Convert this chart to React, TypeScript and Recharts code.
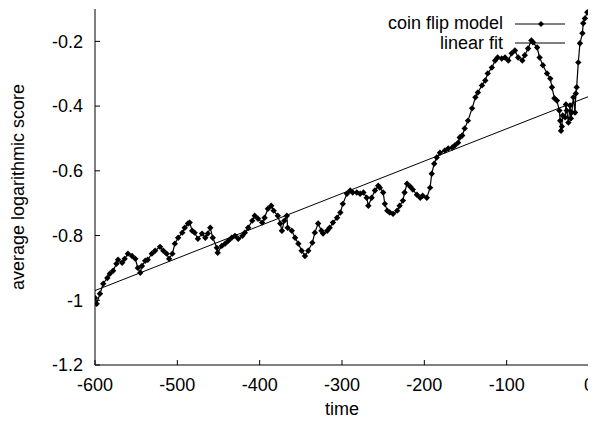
import React from 'react';
import { ScatterChart, Scatter, XAxis, YAxis, Legend, Label } from 'recharts';

const FONT = '"Liberation Sans", Arial, Helvetica, sans-serif';

const times = [
  -600, -598, -594, -590, -585, -582, -578, -574, -572, -567,
  -564, -560, -555, -551, -548, -545, -543, -539, -536, -531,
  -527, -521, -517, -513, -510, -506, -503, -499, -494, -491,
  -487, -485, -482, -479, -475, -470, -466, -463, -460, -457,
  -452, -451, -446, -442, -438, -434, -430, -426, -421, -418,
  -414, -409, -406, -402, -397, -394, -390, -386, -383, -378,
  -375, -373, -370, -367, -366, -361, -357, -353, -349, -345,
  -341, -336, -333, -329, -325, -323, -318, -315, -311, -306,
  -302, -299, -294, -290, -287, -282, -278, -274, -270, -268,
  -264, -260, -256, -254, -250, -248, -245, -242, -238, -233,
  -230, -226, -224, -221, -217, -214, -209, -205, -202, -197,
  -193, -191, -188, -185, -181, -175, -171, -166, -163, -159,
  -157, -154, -151, -147, -142, -138, -135, -130, -126, -123,
  -118, -114, -111, -106, -102, -98, -94, -90, -86, -81,
  -78, -74, -70, -68, -63, -60, -56, -51, -47, -45,
  -42, -39, -36, -35, -34, -33, -32, -29, -28, -27,
  -25, -23, -22, -21, -19, -17, -16, -15, -13, -11,
  -8, -7, -5, -2,
];

const scores = [
  -0.993, -1.011, -0.98, -0.949, -0.931, -0.918, -0.909, -0.887, -0.875, -0.884,
  -0.872, -0.856, -0.863, -0.872, -0.9, -0.915, -0.894, -0.878, -0.875, -0.856,
  -0.847, -0.835, -0.847, -0.856, -0.872, -0.856, -0.825, -0.807, -0.791, -0.776,
  -0.763, -0.76, -0.785, -0.791, -0.81, -0.794, -0.807, -0.794, -0.776, -0.807,
  -0.838, -0.853, -0.832, -0.825, -0.816, -0.807, -0.801, -0.81, -0.801, -0.791,
  -0.776, -0.754, -0.739, -0.748, -0.76, -0.745, -0.717, -0.708, -0.723, -0.739,
  -0.763, -0.785, -0.754, -0.739, -0.776, -0.785, -0.807, -0.825, -0.847, -0.863,
  -0.847, -0.822, -0.791, -0.763, -0.785, -0.794, -0.785, -0.776, -0.76, -0.745,
  -0.729, -0.702, -0.671, -0.661, -0.667, -0.667, -0.671, -0.667, -0.683, -0.708,
  -0.683, -0.661, -0.646, -0.652, -0.667, -0.702, -0.723, -0.729, -0.733, -0.723,
  -0.708, -0.692, -0.667, -0.64, -0.649, -0.658, -0.674, -0.683, -0.677, -0.683,
  -0.652, -0.609, -0.578, -0.559, -0.544, -0.537, -0.531, -0.528, -0.522, -0.513,
  -0.497, -0.491, -0.469, -0.445, -0.407, -0.373, -0.358, -0.336, -0.321, -0.299,
  -0.281, -0.259, -0.25, -0.253, -0.25, -0.259, -0.237, -0.228, -0.25, -0.259,
  -0.243, -0.222, -0.197, -0.203, -0.219, -0.25, -0.274, -0.299, -0.315, -0.342,
  -0.376, -0.383, -0.414, -0.445, -0.476, -0.463, -0.429, -0.435, -0.395, -0.414,
  -0.451, -0.398, -0.438, -0.42, -0.373, -0.42, -0.361, -0.342, -0.265, -0.206,
  -0.175, -0.144, -0.129, -0.11,
];

const fitTimes = [-600, 0];
const fitScores = [-0.97, -0.37];

const xTicks = [-600, -500, -400, -300, -200, -100, 0];
const yTicks = [-1.2, -1, -0.8, -0.6, -0.4, -0.2];
const seriesNames = ['coin flip model', 'linear fit'];
const xLabel = 'time';
const yLabel = 'average logarithmic score';

const coinData = times.map((t, i) => ({ t, v: scores[i] }));
const fitData = fitTimes.map((t, i) => ({ t, v: fitScores[i] }));

const Diamond = (props: any) => {
  const { cx, cy } = props;
  if (cx == null || cy == null) return <g />;
  const r = 3.2;
  return (
    <polygon
      points={`${cx},${cy - r} ${cx + r},${cy} ${cx},${cy + r} ${cx - r},${cy}`}
      fill="#000"
      stroke="none"
    />
  );
};

const NoShape = () => <g />;

const renderLegend = () => (
  <svg width={588} height={50} style={{ display: 'block', overflow: 'visible' }}>
    <text x={495} y={21} textAnchor="end" fontSize={18} fontFamily={FONT} fill="#000">
      {seriesNames[0]}
    </text>
    <line x1={507} y1={16} x2={557} y2={16} stroke="#000" strokeWidth={1} />
    <polygon points="533,13 536,16 533,19 530,16" fill="#000" />
    <text x={495} y={41} textAnchor="end" fontSize={18} fontFamily={FONT} fill="#000">
      {seriesNames[1]}
    </text>
    <line x1={507} y1={35} x2={557} y2={35} stroke="#000" strokeWidth={1} />
  </svg>
);

const tickStyle = { fill: '#000', fontSize: 18, fontFamily: FONT };

export default function App() {
  return (
    <div style={{ width: 588, height: 413, fontFamily: FONT }}>
      <ScatterChart width={588} height={413} margin={{ top: 1, right: 7, bottom: 0, left: 0 }}>
        <XAxis
          xAxisId="b"
          type="number"
          dataKey="t"
          orientation="bottom"
          domain={[-600, 0]}
          ticks={xTicks}
          interval={0}
          allowDataOverflow
          height={56}
          tickSize={-5}
          tickMargin={18}
          axisLine={{ stroke: '#000', strokeWidth: 1 }}
          tickLine={{ stroke: '#000', strokeWidth: 1 }}
          tick={tickStyle}
        >
          <Label value={xLabel} position="insideBottom" offset={6} fill="#000" fontSize={18} fontFamily={FONT} />
        </XAxis>
        <XAxis
          xAxisId="top"
          type="number"
          dataKey="t"
          orientation="top"
          domain={[-600, 0]}
          ticks={xTicks}
          interval={0}
          allowDataOverflow
          height={0}
          tickSize={-5}
          tick={false}
          axisLine={{ stroke: '#000', strokeWidth: 1 }}
          tickLine={{ stroke: '#000', strokeWidth: 1 }}
        />
        <YAxis
          yAxisId="l"
          type="number"
          dataKey="v"
          orientation="left"
          domain={[-1.2, -0.1]}
          ticks={yTicks}
          interval={0}
          allowDataOverflow
          width={87}
          tickSize={-5}
          tickMargin={17}
          axisLine={{ stroke: '#000', strokeWidth: 1 }}
          tickLine={{ stroke: '#000', strokeWidth: 1 }}
          tick={tickStyle}
        >
          <Label
            value={yLabel}
            angle={-90}
            position="insideLeft"
            offset={10}
            fill="#000"
            fontSize={18}
            fontFamily={FONT}
            style={{ textAnchor: 'middle' }}
          />
        </YAxis>
        <YAxis
          yAxisId="r"
          type="number"
          dataKey="v"
          orientation="right"
          domain={[-1.2, -0.1]}
          ticks={yTicks}
          interval={0}
          allowDataOverflow
          width={0}
          tickSize={-5}
          tick={false}
          axisLine={{ stroke: '#000', strokeWidth: 1 }}
          tickLine={{ stroke: '#000', strokeWidth: 1 }}
        />
        <Legend
          layout="horizontal"
          verticalAlign="middle"
          align="center"
          content={renderLegend}
          wrapperStyle={{ position: 'absolute', top: 0, left: 0, width: 588, height: 50 }}
        />
        <Scatter
          name={seriesNames[1]}
          xAxisId="b"
          yAxisId="l"
          data={fitData}
          line={{ stroke: '#000', strokeWidth: 1 }}
          shape={NoShape}
          isAnimationActive={false}
        />
        <Scatter
          name={seriesNames[0]}
          xAxisId="b"
          yAxisId="l"
          data={coinData}
          line={{ stroke: '#000', strokeWidth: 1.2 }}
          shape={Diamond}
          isAnimationActive={false}
        />
      </ScatterChart>
    </div>
  );
}
